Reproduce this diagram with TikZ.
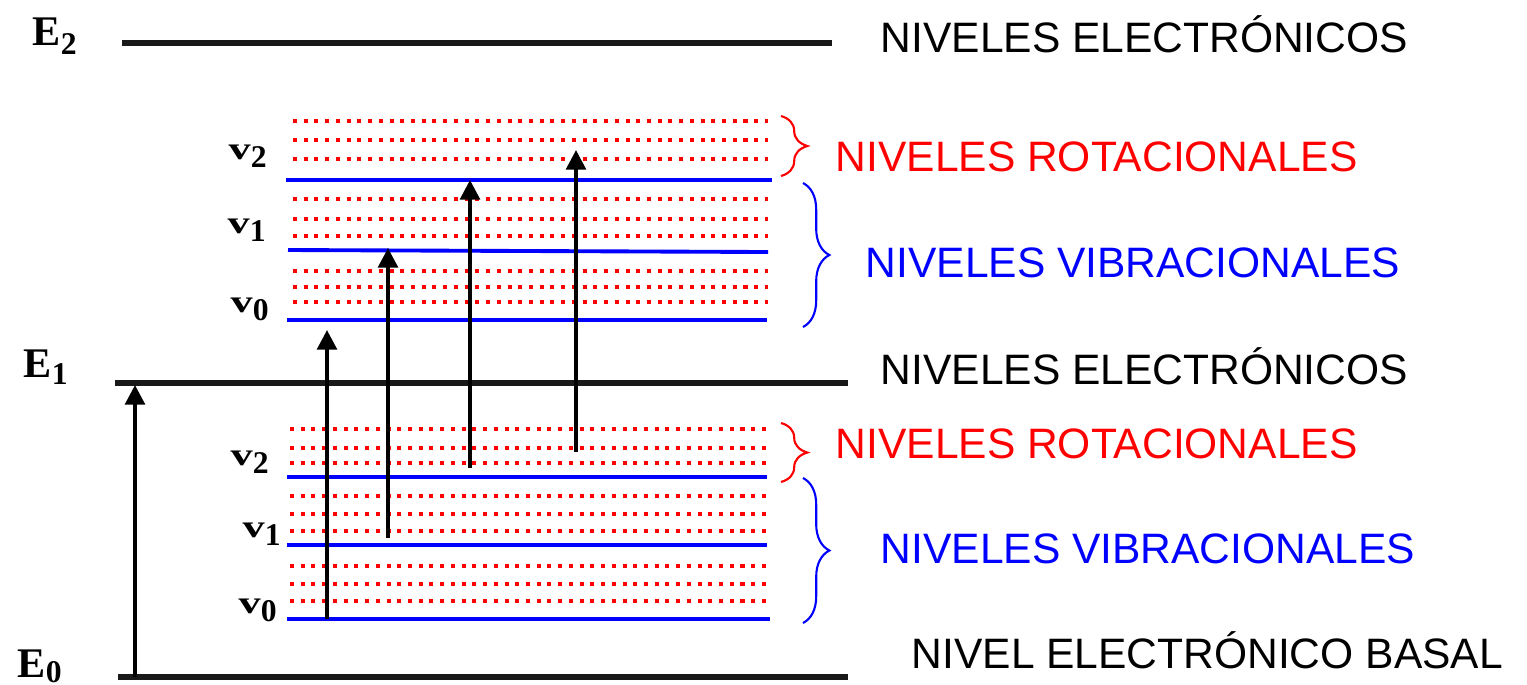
\documentclass[tikz,border=0pt]{standalone}
\usepackage{fontspec}
\usepackage{graphicx}
\setmainfont{Liberation Sans}
\newfontfamily\lvlfont{Liberation Serif}
\usetikzlibrary{arrows.meta,decorations.pathreplacing}

% level labels: E with lowered digit, wide bold v with lowered digit
\newcommand{\Elab}[2]{{\lvlfont\bfseries\fontsize{12}{12}\selectfont E\raisebox{#2}{\fontsize{9}{9}\selectfont #1}}}
\newcommand{\vlab}[1]{{\lvlfont\bfseries\fontsize{9}{9}\selectfont\scalebox{1.4}[1]{v}\raisebox{-2.4pt}{#1}}}

\tikzset{
  elev/.style={line width=1.5pt, draw=black!90},
  vlev/.style={line width=1.1pt, draw=blue},
  rlev/.style={line width=1.15pt, draw=red, dash pattern=on 1.15pt off 1.9pt},
  trans/.style={line width=1.1pt, -{Triangle[length=5.6pt,width=5.6pt]}},
  lab/.style={anchor=base west, inner sep=0pt, font=\fontsize{12.1}{14}\selectfont},
  vtag/.style={anchor=base west, inner sep=0pt},
  brc/.style={decorate, decoration={brace, amplitude=7.5pt}, line width=0.6pt}
}

\begin{document}
\begin{tikzpicture}[x=0.01cm, y=-0.01cm]
  \useasboundingbox (0,0) rectangle (1527,684);
  % electronic levels
  \draw[elev, line width=1.7pt] (122,43) -- (832,43);
  \draw[elev] (115,383) -- (848,383);
  \draw[elev] (118,677) -- (848,677);
  \node[vtag] (e2lab) at (32,45) {\Elab{2}{-2.8pt}};
  \node[vtag] (e1lab) at (23,377) {\Elab{1}{-2pt}};
  \node[vtag] (e0lab) at (17,677) {\Elab{0}{-1.5pt}};
  % rotational sublevels (dotted rows)
  \foreach \y in {121,140,159,199,219,236,271,287,302}
    \draw[rlev] (293,\y) -- (768,\y);
  \foreach \y in {429,448,463,496,514,531,566,584,601}
    \draw[rlev] (290,\y) -- (768,\y);
  % vibrational levels, upper state
  \draw[vlev] (286,180) -- (772,180);
  \draw[vlev] (288,250) -- (768,252);
  \draw[vlev] (287,320) -- (767,320);
  \node[vtag] (uv2) at (228,159) {\vlab{2}};
  \node[vtag] (uv1) at (227,233) {\vlab{1}};
  \node[vtag] (uv0) at (230,312) {\vlab{0}};
  % vibrational levels, ground state
  \draw[vlev] (287,477) -- (767,477);
  \draw[vlev] (287,545) -- (767,545);
  \draw[vlev] (287,619) -- (770,619);
  \node[vtag] (lv2) at (230,465) {\vlab{2}};
  \node[vtag] (lv1) at (242,537) {\vlab{1}};
  \node[vtag] (lv0) at (238,613) {\vlab{0}};
  % transitions
  \coordinate (a0) at (135,677); \coordinate (a1) at (135,385);
  \coordinate (b0) at (327,619); \coordinate (b1) at (327,330);
  \coordinate (c0) at (388,538); \coordinate (c1) at (388,248);
  \coordinate (d0) at (470,468); \coordinate (d1) at (470,180);
  \coordinate (f0) at (576,452); \coordinate (f1) at (576,150);
  \foreach \s/\t in {a0/a1,b0/b1,c0/c1,d0/d1,f0/f1}
    \draw[trans] (\s) -- (\t);
  % braces
  \draw[brc, red] (781,116) -- (781,176);
  \draw[brc, blue] (803,183) -- (803,327);
  \draw[brc, red] (781,423) -- (781,482);
  \draw[brc, blue] (803,478) -- (803,623);
  % captions
  \node[lab] (elec2) at (880,52) {NIVELES ELECTRÓNICOS};
  \node[lab, red] (rot1) at (835,171) {NIVELES ROTACIONALES};
  \node[lab, blue] (vib1) at (865,277) {NIVELES VIBRACIONALES};
  \node[lab] (elec1) at (880,384) {NIVELES ELECTRÓNICOS};
  \node[lab, red] (rot0) at (835,458) {NIVELES ROTACIONALES};
  \node[lab, blue] (vib0) at (880,563) {NIVELES VIBRACIONALES};
  \node[lab] (basal) at (911,668) {NIVEL ELECTRÓNICO BASAL};
\end{tikzpicture}
\end{document}
